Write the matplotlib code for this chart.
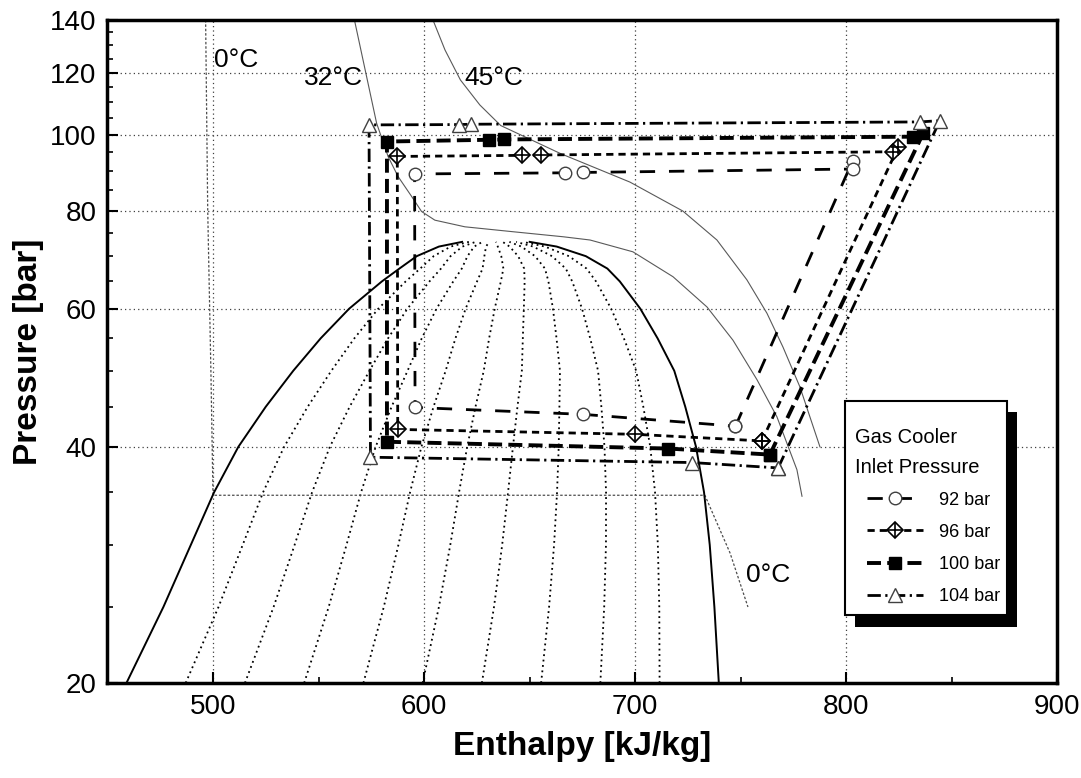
import matplotlib
matplotlib.use('Agg')
import matplotlib.pyplot as plt
from matplotlib.patches import Rectangle
from matplotlib.ticker import FixedLocator, FuncFormatter, NullFormatter
import numpy as np

plt.rcParams['font.family'] = ['Liberation Sans', 'DejaVu Sans']

# CO2 saturation dome, liquid and vapour enthalpy on common pressure levels
dome_p = [20, 25, 30, 35, 40, 45, 50, 55, 60, 65, 67.5, 70, 72, 73]
h_liq = [459.0, 476.5, 489.5, 500.5, 512.0, 525.0, 538.0, 551.0, 564.5, 580.0, 588.3, 596.5, 607.0, 618.0]
h_vap = [739.6, 737.5, 735.3, 732.6, 728.8, 723.7, 718.5, 710.6, 702.4, 692.7, 686.8, 676.6, 662.8, 650.0]
qualities = [0.1, 0.2, 0.3, 0.4, 0.5, 0.6, 0.7, 0.8, 0.9]

# isotherms
iso0_h = [496.5, 497.5, 499.0, 500.0, 733.0, 744.9, 753.4]
iso0_p = [140.0, 80.0, 50.0, 34.7, 34.7, 29.3, 25.0]
iso32_h = [567.0, 577.5, 583.0, 587.7, 594.1, 598.8, 605.1, 619.3, 642.2, 665.9, 678.6,
           698.9, 717.9, 734.0, 746.3, 757.7, 767.1, 776.6, 779.0]
iso32_p = [140.0, 103.4, 93.7, 88.4, 83.4, 79.8, 77.8, 76.3, 75.2, 74.1, 73.4,
           70.9, 65.9, 60.3, 54.7, 48.7, 43.7, 37.4, 34.6]
iso45_h = [604.2, 609.9, 617.2, 626.4, 636.3, 664.6, 697.5, 722.6, 738.7, 752.9, 762.4, 770.0, 778.0, 787.5]
iso45_p = [140.0, 128.2, 117.4, 109.1, 102.7, 94.6, 87.0, 79.9, 73.4, 65.3, 59.2, 53.6, 47.7, 40.0]

# measured cycles: evaporator exit -> discharge -> gas cooler -> valve -> evaporator
labels = ['92 bar', '96 bar', '100 bar', '104 bar']
h92 = [747.5, 803.0, 803.0, 675.5, 666.7, 595.5, 595.7, 675.4, 747.5]
p92 = [42.5, 92.6, 90.4, 89.5, 89.4, 89.1, 44.9, 44.0, 42.5]
h96 = [760.0, 824.6, 822.2, 655.3, 646.3, 587.3, 587.5, 699.9, 760.0]
p96 = [40.7, 96.5, 95.1, 94.2, 94.1, 93.8, 42.1, 41.5, 40.7]
h100 = [763.8, 836.4, 831.7, 638.0, 630.5, 582.4, 582.4, 715.6, 763.8]
p100 = [39.1, 100.4, 99.4, 98.6, 98.5, 98.0, 40.6, 39.8, 39.1]
h104 = [767.7, 844.3, 834.9, 622.2, 616.4, 573.9, 574.6, 726.7, 767.7]
p104 = [37.6, 104.2, 103.8, 103.1, 103.0, 102.9, 38.8, 38.2, 37.6]

fig = plt.figure(figsize=(10.81, 7.78), dpi=100)
ax = fig.add_axes([0.0994, 0.1221, 0.8788, 0.8522])
ax.set_yscale('log')
ax.set_xlim(450, 900)
ax.set_ylim(20, 140)

# grid
for h in [500, 600, 700, 800]:
    ax.axvline(h, color='0.25', lw=0.9, ls=(0, (1, 2.5)), zorder=0.5)
for p in [40, 60, 80, 100, 120]:
    ax.axhline(p, color='0.25', lw=0.9, ls=(0, (1, 2.5)), zorder=0.5)

# lines of constant quality inside the dome
hl = np.array(h_liq)
hv = np.array(h_vap)
for q in qualities:
    ax.plot(hl + q * (hv - hl), dome_p, color='black', lw=1.3, ls=(0, (1, 2)), zorder=1)

ax.plot(h_liq, dome_p, color='black', lw=1.4, zorder=2)
ax.plot(h_vap, dome_p, color='black', lw=1.4, zorder=2)

ax.plot(iso0_h, iso0_p, color='0.3', lw=0.9, ls=(0, (2, 1.5)), zorder=1.5)
ax.plot(iso32_h, iso32_p, color='0.35', lw=0.8, zorder=1.5)
ax.plot(iso45_h, iso45_p, color='0.35', lw=0.8, zorder=1.5)

ax.text(500.5, 124.5, '0°C', fontsize=19, ha='left', va='center')
ax.text(557.0, 118.0, '32°C', fontsize=19, ha='center', va='center')
ax.text(633.0, 118.0, '45°C', fontsize=19, ha='center', va='center')
ax.text(763.0, 27.5, '0°C', fontsize=19, ha='center', va='center')

l92, = ax.plot(h92, p92, color='black', lw=2.0, ls=(0, (5.5, 5)),
               marker='o', ms=9, mfc='white', mec='0.25', mew=1.0, zorder=3)
l96, = ax.plot(h96, p96, color='black', lw=2.0, ls=(0, (2.6, 1.8)),
               marker='D', ms=8, mfc='white', mec='black', mew=1.2, zorder=3)
c96, = ax.plot(h96, p96, ls='none', marker='+', ms=10, mec='black', mew=1.2, zorder=3.1)
l100, = ax.plot(h100, p100, color='black', lw=2.8, ls=(0, (3.6, 1.6)),
                marker='s', ms=8, mfc='black', mec='black', zorder=3)
l104, = ax.plot(h104, p104, color='black', lw=2.0, ls=(0, (4.8, 1.6, 0.8, 1.6)),
                marker='^', ms=10, mfc='white', mec='0.25', mew=1.0, zorder=3)

# axes styling
ax.yaxis.set_major_locator(FixedLocator([20, 40, 60, 80, 100, 120, 140]))
ax.yaxis.set_major_formatter(FuncFormatter(lambda v, pos: '%d' % v))
ax.yaxis.set_minor_locator(FixedLocator([v for v in range(25, 140, 5) if v % 20 != 0]))
ax.yaxis.set_minor_formatter(NullFormatter())
ax.xaxis.set_major_locator(FixedLocator([500, 600, 700, 800, 900]))
ax.xaxis.set_minor_locator(FixedLocator([550, 650, 750, 850]))

ax.tick_params(which='major', direction='in', length=8, width=1.5, labelsize=20, pad=8)
ax.tick_params(which='minor', direction='in', length=4.5, width=1.2)
for s in ax.spines.values():
    s.set_linewidth(2.5)

ax.set_xlabel('Enthalpy [kJ/kg]', fontsize=24, fontweight='bold', labelpad=8)
ax.set_ylabel('Pressure [bar]', fontsize=24, fontweight='bold', labelpad=4)

# legend box with a solid drop shadow, drawn in axes fraction
bx0, bx1, by0, by1 = 0.7763, 0.9468, 0.1026, 0.4258
sdx, sdy = 0.0105, 0.0175
ax.add_patch(Rectangle((bx0 + sdx, by0 - sdy), bx1 - bx0, by1 - by0, transform=ax.transAxes,
                       facecolor='black', edgecolor='none', zorder=4.5, clip_on=False))
ax.add_patch(Rectangle((bx0, by0), bx1 - bx0, by1 - by0, transform=ax.transAxes,
                       facecolor='white', edgecolor='black', lw=1.5, zorder=4.6, clip_on=False))
ax.text(0.7868, 0.371, 'Gas Cooler', transform=ax.transAxes, fontsize=14.5,
        ha='left', va='center', zorder=4.7)
ax.text(0.7868, 0.3243, 'Inlet Pressure', transform=ax.transAxes, fontsize=14.5,
        ha='left', va='center', zorder=4.7)

leg = ax.legend([l92, (l96, c96), l100, l104], labels,
                loc='upper left', bbox_to_anchor=(0.7995, 0.2887), borderaxespad=0,
                borderpad=0, fontsize=13, frameon=False,
                handlelength=3.1, handletextpad=0.9, labelspacing=0.84)
leg.set_zorder(4.8)

fig.savefig('out.png', dpi=100)
